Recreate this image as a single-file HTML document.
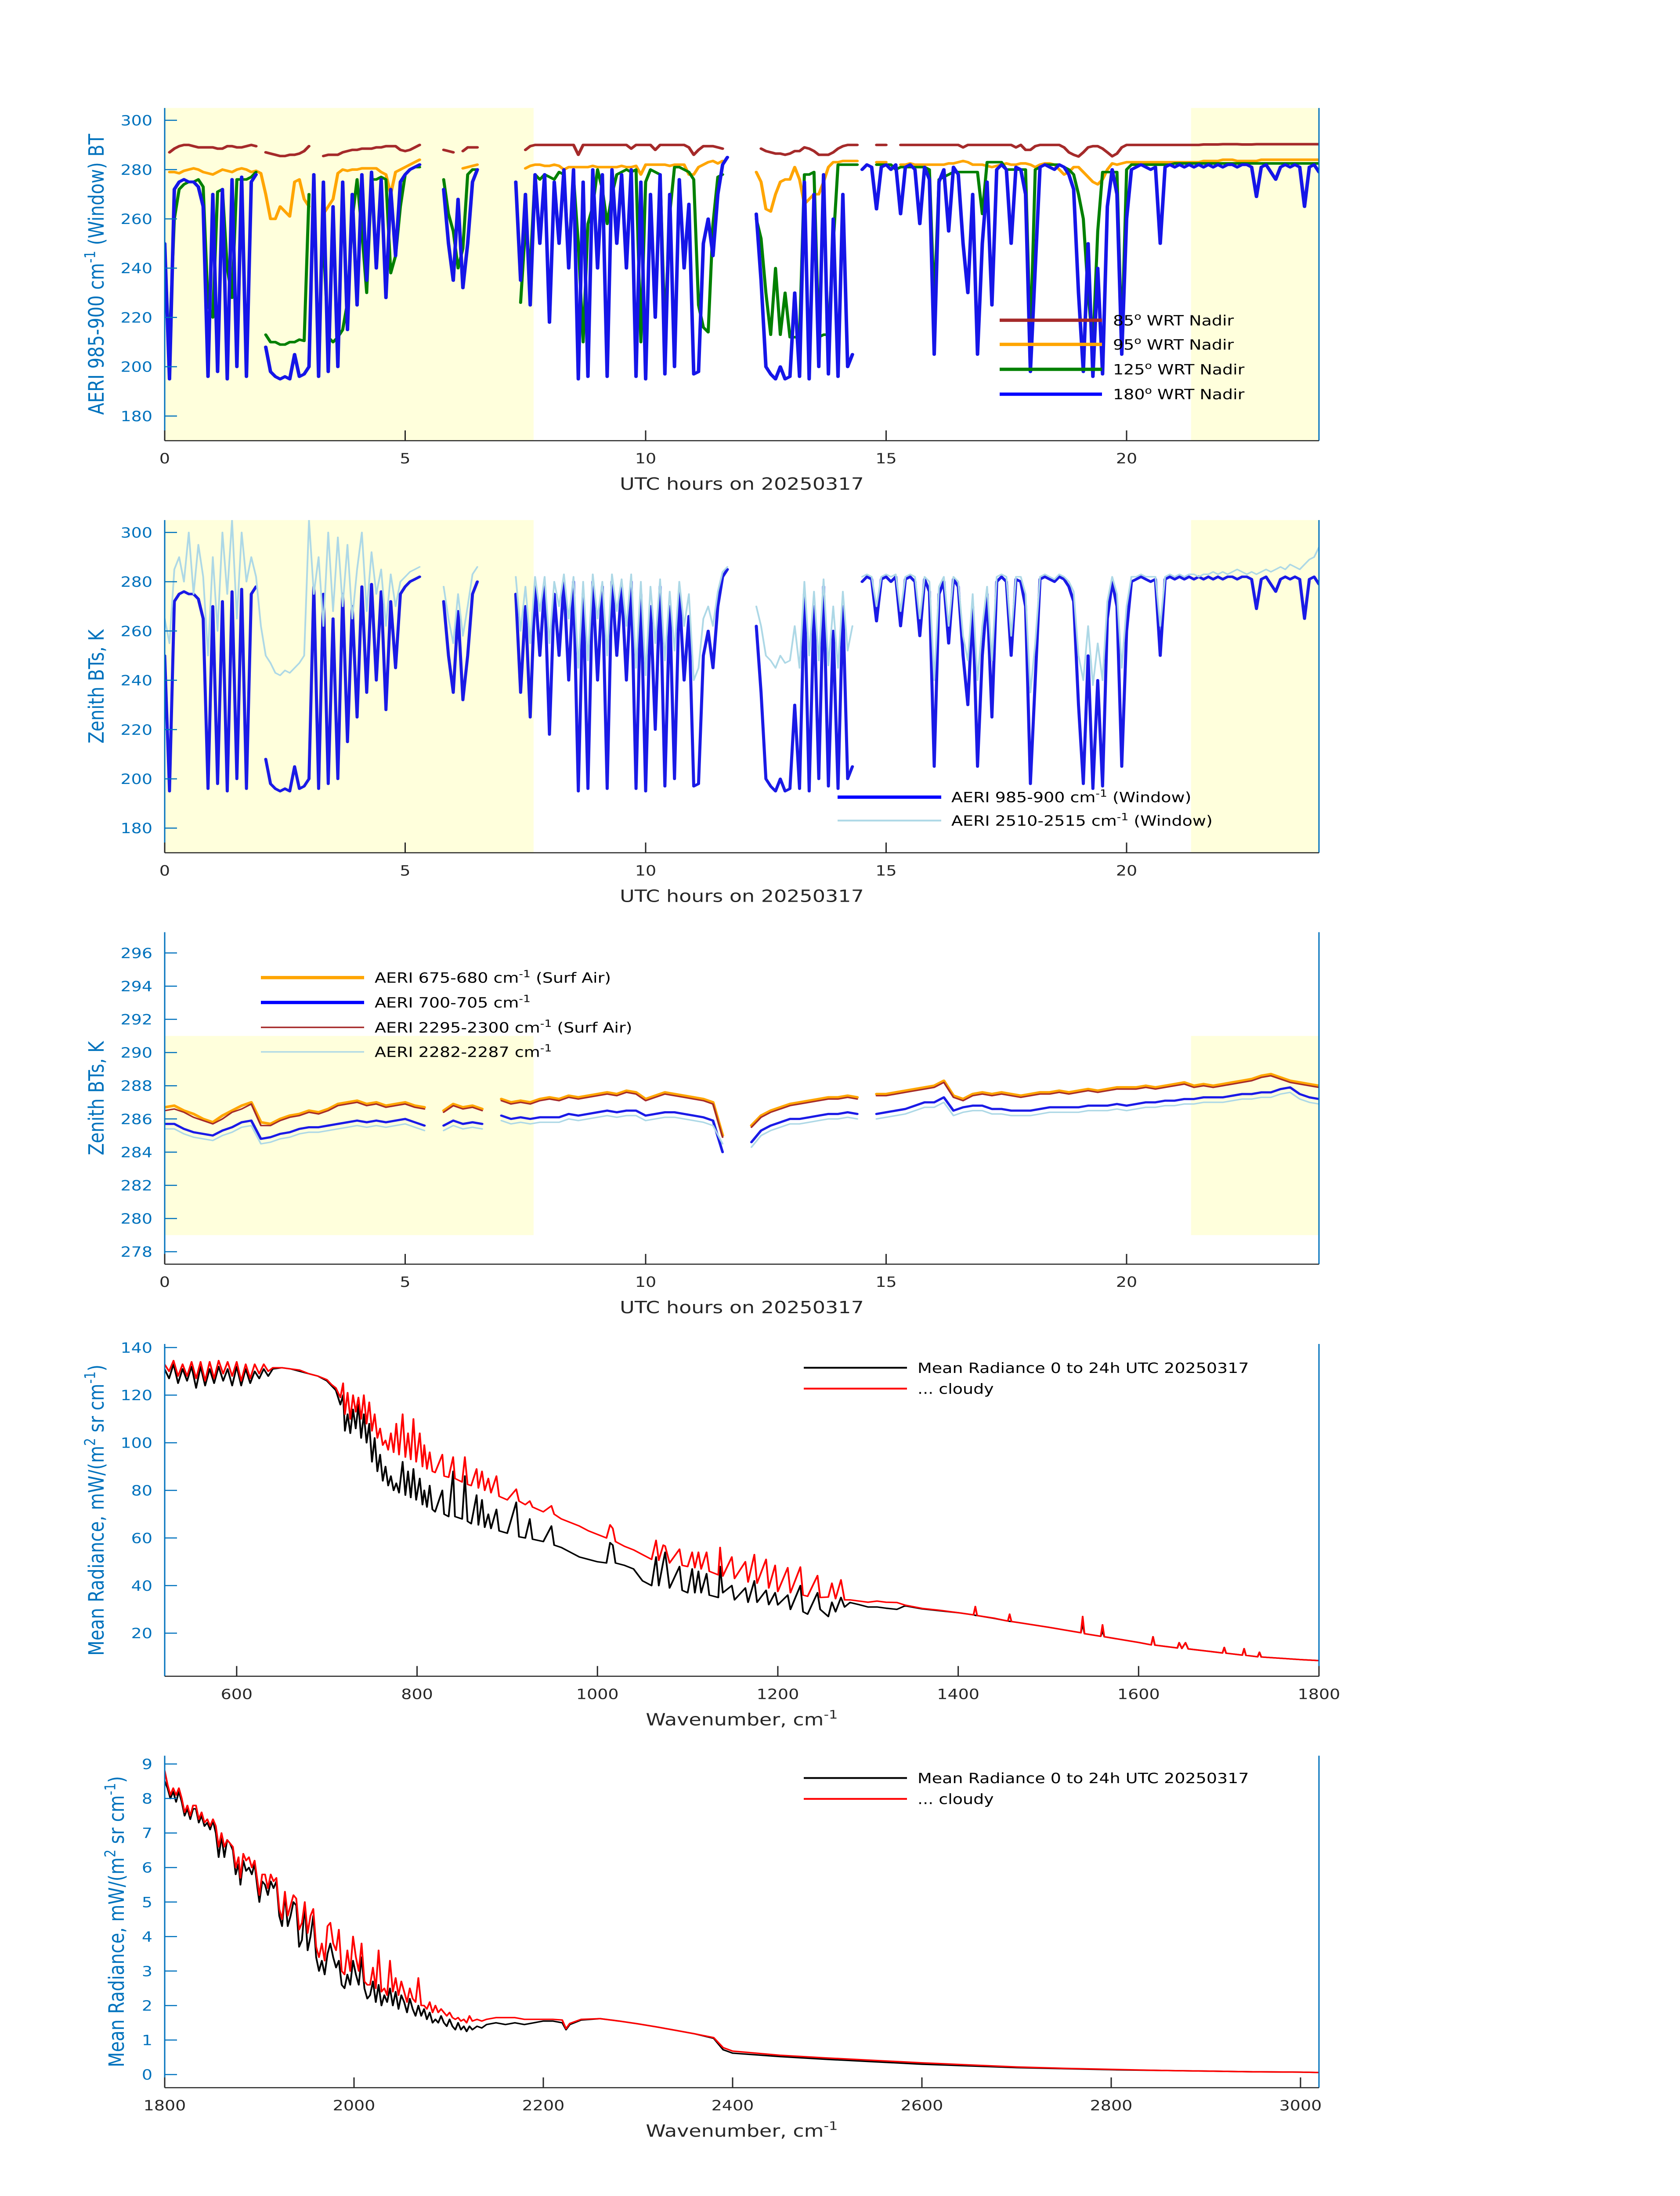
<!DOCTYPE html>
<html><head><meta charset="utf-8">
<style>
html,body{margin:0;padding:0;background:#fff;width:100%;height:100%;overflow:hidden;}
svg{display:block;position:absolute;left:0;top:0;width:100vw;height:100vh;font-family:"DejaVu Sans","Liberation Sans",sans-serif;}
</style></head>
<body>
<svg id="fig" xmlns="http://www.w3.org/2000/svg" viewBox="0 0 3825 6000" preserveAspectRatio="none">
<rect x="0" y="0" width="3825" height="6000" fill="#fff"/>
</svg>
<script>
// ---------- Panel 1/2 data (0.1 h steps, 0..24 h) ----------
const hourStep = 0.1;
const bt180 = [250,195,272,275,276,275,275,273,265,196,
270,198,272,195,276,200,277,196,275,278,
null,208,198,196,195,196,195,205,196,197,
200,278,196,275,198,265,200,275,215,270,
225,278,235,279,240,276,228,272,245,275,
278,280,281,282,null,null,null,null,272,250,
235,268,232,250,275,280,null,null,null,null,
null,null,null,275,235,270,225,278,250,278,
218,275,250,280,240,280,195,275,196,280,
240,278,196,280,250,278,240,280,196,275,
195,270,220,278,197,270,200,276,240,266,
197,198,250,260,245,270,282,285,null,null,
null,null,null,262,235,200,197,195,200,195,
196,230,196,275,195,270,200,278,197,260,
196,270,200,205,null,280,282,281,264,281,
282,280,282,262,281,282,280,258,281,276,
205,275,280,255,281,278,250,230,270,205,
250,275,225,280,282,280,250,281,280,270,
198,240,281,282,281,280,282,281,278,272,
230,198,250,196,240,197,265,280,270,205,
260,280,281,282,281,280,281,250,281,282,
281,282,281,282,281,282,281,282,281,282,
281,282,282,281,282,282,281,269,281,282,
279,276,281,282,281,282,281,265,281,282,
279];
const bt125 = [null,210,260,272,274,275,275,276,273,225,
220,271,272,240,228,276,276,276,277,279,
null,213,210,210,209,209,210,210,211,210.5,
270,null,null,250,212,210,212,215,226,260,
276,255,230,276,276,277,276,238,245,265,
278,280,281,281,null,null,null,null,276,262,
255,240,248,278,280,280,null,null,null,null,
null,null,null,null,226,257,240,278,276,278,
277,276,279,278,245,277,250,210,258,265,
280,272,258,270,278,279,280,279,280,210,
275,280,279,278,214,262,281,281,280,279,
276,225,216,214,258,277,278,null,null,null,
null,null,null,260,252,230,213,240,213,230,
212,212,212,278,278,279,212,213,213,250,
282,282,282,282,282,null,null,null,282,282,
282,282,280,281,281,281,281,281,281,280,
225,276,277,278,279,279,279,279,279,279,
262,283,283,283,283,280,280,280,280,280,
210,280,281,282,282,282,282,281,280,278,
270,260,230,208,255,279,279,279,279,210,
280,282,282,282,282,282,282,282,282,282,
282.5,282.5,282.5,282.5,282.5,282.5,282.5,282.5,282.5,282.5,
282.5,282.5,282.5,282.5,282.5,282.5,282.5,282.5,282.5,282.5,
282.5,282.5,282.5,282.5,282.5,282.5,282.5,282.5,282.5,282.5,
282.5];
const bt95 = [null,279,279,278.5,279.5,280,280.5,280,279,278.5,
278,279,280,279.5,279,280,280.5,280,279,279.5,
278.5,270,260,260,265,263,261,275,276,268,
265,null,null,262,265,268,278.5,280,279.5,280,
280,280.5,280.5,280.5,280.5,279,278,270,279,280,
281,282,283,284,null,null,null,null,null,null,
276,null,280.5,281,281.5,282,null,null,null,null,
null,null,null,276,null,280.5,281.5,282,282,281.5,
281.5,282,281.5,280,281,281,281,281,281,281.5,
281,281,281,281,281,281.5,281,281,281.5,278,
282,282,282,282,282,281.5,282,282,282,278,
278,281,282,283,283.5,282.5,283.5,null,null,null,
null,null,null,279,275,264,263,270,275,276,
276,281,276,266,268,270,270,275,281,283,
283,283.5,283.5,283.5,283.5,null,null,null,283,283,
283,null,null,282,282,282.5,282,282,282,282,
282,282,282,282.5,282.5,283,283.5,283,282,282,
282,281.5,281,281.5,282,282.5,282,282,282.5,282.5,
282,281,282,282.5,282.5,282,280,278,279,281,
281,279,277,275,274,276,280,282.5,282,282.5,
283,283,283,283,283,283,283,283,283,283,
283,283,283,283,283,283,283.5,283.5,283.5,283.5,
284,284,284,283.5,283.5,283.5,283.5,283.5,284,284,
284,284,284,284,284,284,284,284,284,284,
284];
const bt85 = [null,287,288.5,289.5,290,290,289.5,289,289,289,
289,288.5,288.5,289.5,289.5,289,289,289.5,290,289.5,
null,287,286.5,286,285.5,285.5,286,286,286.5,287.5,
289.5,null,null,285.5,286,286,286,287,287.5,288,
288,288.5,288.5,288.5,289,289,289.5,289.5,289.5,288,
287.5,288,289,290,null,null,null,null,288,287.5,
287,null,287.5,289,289,289,null,null,null,null,
null,null,null,287,null,288,289.5,290,290,290,
290,290,290,290,290,290,286,290,290,290,
290,290,290,290,290,290,290,288.5,290,290,
290,290,288,290,290,290,290,290,290,289,
286,288,289.5,289.5,289.5,289,288.5,null,null,null,
null,null,null,null,288.5,287.5,287,286.5,286.5,286,
286.5,287.5,287.5,289,288.5,287.5,286,286,286,287,
288.5,289.5,290,290,290,null,null,null,290,290,
290,null,null,290,290,290,290,290,290,290,
290,290,290,290,290,290,289,290,290,290,
290,290,290,290,290,290,290,289,290,288,
288,289.5,290,290,290,290,290,289,287,286,
285.3,287,289,289.5,289.5,288.5,287,285.4,286.5,289,
290,290,290,290,290,290,290,290,290,290,
290,290,290,290,290,290,290.2,290.2,290.2,290.2,
290.3,290.3,290.3,290.3,290.2,290.2,290.2,290.3,290.3,290.3,
290.3,290.3,290.3,290.3,290.3,290.3,290.3,290.3,290.3,290.3,
290.3];
const bt2510 = [265,255,285,290,280,300,275,295,282,250,
290,260,300,275,305,265,300,280,290,282,
262,250,247,243,242,244,243,245,247,250,
305,275,290,262,300,268,298,270,295,265,
285,300,268,292,275,285,262,283,270,280,
282,284,285,286,null,null,null,null,278,265,
255,275,258,270,283,286,null,null,null,null,
null,null,null,282,260,278,255,282,268,282,
255,280,270,283,265,282,245,280,248,283,
265,280,250,283,268,281,262,283,245,280,
242,278,255,281,248,276,252,280,262,275,
240,245,265,270,262,276,284,286,null,null,
null,null,null,270,262,250,248,245,250,247,
248,262,245,280,250,276,248,281,246,270,
245,276,252,262,null,282,283,282,270,282,
283,282,283,268,282,283,282,265,282,280,
240,278,282,262,282,280,258,248,275,240,
262,278,248,282,283,282,258,282,282,275,
235,255,282,283,282,281,283,282,280,276,
250,240,262,238,255,240,272,282,275,245,
270,282,282,283,282,282,282,262,282,283,
282,283,282,283,283,282,283,283,284,283,
284,283,284,285,284,283,284,283,284,285,
284,285,286,285,287,286,285,287,289,290,
294];

// ---------- Panel 3 data (0.2 h steps) ----------
const surfStep = 0.2;
const bt675 = [286.7,286.8,286.5,286.3,286.0,285.8,286.2,286.5,286.8,287.0,
285.8,285.7,286.0,286.2,286.3,286.5,286.4,286.6,286.9,287.0,
287.1,286.9,287.0,286.8,286.9,287.0,286.8,286.7,null,286.5,
286.9,286.7,286.8,286.6,null,287.2,287.0,287.1,287.0,287.2,
287.3,287.2,287.4,287.3,287.4,287.5,287.6,287.5,287.7,287.6,
287.2,287.4,287.6,287.5,287.4,287.3,287.2,287.0,285.0,null,
null,285.6,286.2,286.5,286.7,286.9,287.0,287.1,287.2,287.3,
287.3,287.4,287.3,null,287.5,287.5,287.6,287.7,287.8,287.9,
288.0,288.3,287.4,287.2,287.5,287.6,287.5,287.6,287.5,287.4,
287.5,287.6,287.6,287.7,287.6,287.7,287.8,287.7,287.8,287.9,
287.9,287.9,288.0,287.9,288.0,288.1,288.2,288.0,288.1,288.0,
288.1,288.2,288.3,288.4,288.6,288.7,288.5,288.3,288.2,288.1,
288.0];
const bt2295 = [286.5,286.6,286.4,286.1,285.9,285.7,286.0,286.4,286.6,286.9,
285.6,285.6,285.9,286.1,286.2,286.4,286.3,286.5,286.8,286.9,
287.0,286.8,286.9,286.7,286.8,286.9,286.7,286.6,null,286.4,
286.8,286.6,286.7,286.5,null,287.1,286.9,287.0,286.9,287.1,
287.2,287.1,287.3,287.2,287.3,287.4,287.5,287.4,287.6,287.5,
287.1,287.3,287.5,287.4,287.3,287.2,287.1,286.9,284.9,null,
null,285.5,286.1,286.4,286.6,286.8,286.9,287.0,287.1,287.2,
287.2,287.3,287.2,null,287.4,287.4,287.5,287.6,287.7,287.8,
287.9,288.2,287.3,287.1,287.4,287.5,287.4,287.5,287.4,287.3,
287.4,287.5,287.5,287.6,287.5,287.6,287.7,287.6,287.7,287.8,
287.8,287.8,287.9,287.8,287.9,288.0,288.1,287.9,288.0,287.9,
288.0,288.1,288.2,288.3,288.5,288.6,288.4,288.2,288.1,288.0,
287.9];
const bt700 = [285.7,285.7,285.4,285.2,285.1,285.0,285.3,285.5,285.8,285.9,
284.8,284.9,285.1,285.2,285.4,285.5,285.5,285.6,285.7,285.8,
285.9,285.8,285.9,285.8,285.9,286.0,285.8,285.6,null,285.6,
285.9,285.7,285.8,285.7,null,286.2,286.0,286.1,286.0,286.1,
286.1,286.1,286.3,286.2,286.3,286.4,286.5,286.4,286.5,286.5,
286.2,286.3,286.4,286.4,286.3,286.2,286.1,285.9,284.0,null,
null,284.6,285.3,285.6,285.8,286.0,286.0,286.1,286.2,286.3,
286.3,286.4,286.3,null,286.3,286.4,286.5,286.6,286.8,287.0,
287.0,287.3,286.5,286.7,286.8,286.8,286.6,286.6,286.5,286.5,
286.5,286.6,286.7,286.7,286.7,286.7,286.8,286.8,286.8,286.9,
286.8,286.9,287.0,287.0,287.1,287.1,287.2,287.2,287.3,287.3,
287.3,287.4,287.5,287.5,287.6,287.6,287.8,287.9,287.5,287.3,
287.2];
const bt2282 = [285.4,285.4,285.1,284.9,284.8,284.7,285.0,285.2,285.5,285.6,
284.5,284.6,284.8,284.9,285.1,285.2,285.2,285.3,285.4,285.5,
285.6,285.5,285.6,285.5,285.6,285.7,285.5,285.3,null,285.3,
285.6,285.4,285.5,285.4,null,285.9,285.7,285.8,285.7,285.8,
285.8,285.8,286.0,285.9,286.0,286.1,286.2,286.1,286.2,286.2,
285.9,286.0,286.1,286.1,286.0,285.9,285.8,285.6,284.5,null,
null,284.3,285.0,285.3,285.5,285.7,285.7,285.8,285.9,286.0,
286.0,286.1,286.0,null,286.0,286.1,286.2,286.3,286.5,286.7,
286.7,287.0,286.2,286.4,286.5,286.5,286.3,286.3,286.2,286.2,
286.2,286.3,286.4,286.4,286.4,286.4,286.5,286.5,286.5,286.6,
286.5,286.6,286.7,286.7,286.8,286.8,286.9,286.9,287.0,287.0,
287.0,287.1,287.2,287.2,287.3,287.3,287.5,287.6,287.2,287.0,
286.9];

// ---------- Panel 4 spectra ----------
const wn4 = [520,525,530,535,540,545,550,555,560,565,570,575,580,585,590,595,600,605,610,615,620,625,630,635,640,650,660,670,680,690,700,705,710,715,718,720,723,726,729,732,735,738,741,744,747,750,753,756,759,762,765,768,771,774,777,780,784,787,790,793,796,799,803,806,808,811,814,817,820,828,830,835,840,842,850,853,856,860,866,868,872,875,879,882,888,891,900,910,913,920,925,928,940,949,952,960,970,980,990,1000,1010,1014,1017,1020,1030,1040,1050,1060,1065,1068,1073,1075,1080,1091,1094,1100,1105,1108,1112,1115,1121,1124,1134,1136,1139,1149,1152,1164,1167,1174,1177,1187,1190,1197,1200,1211,1214,1225,1228,1233,1244,1247,1256,1260,1264,1270,1274,1280,1290,1300,1310,1320,1332,1341,1360,1380,1400,1417,1419,1421,1440,1455,1457,1459,1468,1500,1536,1538,1540,1558,1560,1562,1600,1614,1616,1618,1643,1645,1648,1652,1655,1680,1693,1695,1697,1715,1717,1719,1732,1734,1736,1760,1780,1800];
const rad4All = [131,127,133,125,131,126,132,123,132,124,131,125,132,126,131,124,132,124,131,125,130,127,131,128,131,131.5,131,130,129,128,126,124,122,116,120,105,112,104,114,106,116,102,112,100,108,92,102,88,95,84,90,82,86,80,83,79,92,78,88,77,89,76,85,74,80,73,82,72,71,80,70,69,88,69,68,86,67,66,78,65.5,76,64.5,70,64,72,63,62,75,60.5,60,68,59.5,58.5,65,57,56,54,52,51,50,49.5,58,57,49.5,48.5,47,42,40,52,40,50,54,39,48,38,37,47,37,46,37,45,36,35,48,37,40,34,39,33,42,33,38,32,37,31.9,36,30,40,29,28,37,30,27,33,29,35,31,32.9,32,31,31,30.5,30,31.5,30.2,29.4,28.6,27.7,27.5,27.4,26.2,25.1,25,24.9,24.4,22.5,20.2,24,19.8,18.7,21,18.5,16.1,15.1,18.5,15,13.8,16,13.6,16,13.4,12.3,11.7,14,11.6,10.8,13.5,10.7,10.1,12,10,9.4,8.9,8.5];
const rad4Cloudy = [133,130,134.5,128,133,128,134,127,134,126,134,127,134.5,129,134,128,134,126,133,127,133,129,133,130,131.5,131.5,131,130.5,129,128,126.5,124.5,123,119,125,112,121,110,120,113,119,110,120,108,117,105,112,102,106,99,101,97,104,96,108,95,112,94,104,93,110,92,104,90,99,89,96,88,87.5,95,86,85.5,94,85,83.5,94,82.5,82,89,81,88,80,85,79,86,77.5,76,80.5,75.5,74,75.5,73,71,73.5,70,68,66.5,65,63,61.5,60,65.5,64,58.5,56.5,55,53,51,59,50.6,57,56.6,49.5,55.3,48.5,48,54,47.5,54,47,54,46,44.5,56,44,52,43,50,41.5,53,41,51,39,48.5,37.5,47.5,37,47.8,36,35.5,44.2,35,35.2,41,34.5,42.4,34,34,33.5,33,33.5,33,32.9,31.8,30.4,29.6,28.6,27.7,31.2,27.4,26.3,25.1,28,24.9,24.4,22.5,20.2,27,19.8,18.7,23.5,18.5,16.1,15.1,18.5,15,13.8,16,13.6,16,13.4,12.3,11.7,14,11.6,10.8,13.5,10.7,10.1,12,10,9.4,8.9,8.5];

// ---------- Panel 5 spectra ----------
const wn5 = [1800,1803,1806,1809,1812,1815,1818,1821,1824,1827,1830,1833,1836,1839,1842,1845,1848,1851,1854,1857,1860,1863,1866,1869,1872,1875,1878,1880,1883,1886,1889,1892,1895,1898,1900,1903,1906,1909,1912,1915,1918,1921,1924,1927,1930,1933,1936,1939,1942,1945,1948,1951,1954,1957,1960,1963,1966,1969,1972,1975,1978,1981,1984,1987,1990,1993,1996,1999,2002,2005,2008,2011,2014,2017,2020,2023,2026,2029,2032,2035,2038,2041,2044,2047,2050,2053,2056,2059,2062,2065,2068,2071,2074,2077,2080,2083,2086,2089,2092,2095,2098,2101,2104,2107,2110,2113,2116,2119,2122,2125,2130,2135,2140,2150,2160,2170,2180,2190,2200,2210,2220,2224,2228,2240,2260,2280,2300,2320,2340,2360,2380,2390,2400,2450,2500,2550,2600,2650,2700,2750,2800,2850,2900,2950,3000,3020];
const rad5All = [8.5,8.3,8.0,8.2,7.9,8.2,7.9,7.5,7.7,7.4,7.7,7.7,7.3,7.5,7.2,7.3,7.1,7.35,7.0,6.3,6.9,6.3,6.8,6.7,6.5,5.8,6.1,5.5,6.2,5.9,6.0,5.8,6.1,5.4,5.0,5.6,5.5,5.2,5.6,5.4,5.6,4.6,4.3,5.2,4.3,4.6,5.0,4.9,3.7,3.9,4.9,3.6,4.0,4.6,3.4,3.0,3.3,2.9,3.5,3.8,3.4,3.1,3.3,2.6,2.5,2.9,2.6,3.3,2.9,2.6,3.4,2.5,2.2,2.3,2.7,2.1,2.6,2.0,2.3,2.1,2.5,2.0,2.4,1.9,2.3,2.1,1.8,2.2,1.9,1.7,2.0,1.7,1.9,1.6,1.8,1.5,1.6,1.5,1.7,1.5,1.4,1.6,1.4,1.3,1.5,1.3,1.4,1.25,1.4,1.3,1.4,1.35,1.45,1.5,1.45,1.5,1.45,1.5,1.55,1.55,1.5,1.3,1.45,1.58,1.62,1.55,1.47,1.38,1.28,1.18,1.05,0.72,0.62,0.52,0.44,0.37,0.30,0.25,0.20,0.17,0.14,0.12,0.10,0.08,0.07,0.06];
const rad5Cloudy = [8.8,8.4,8.1,8.3,8.1,8.3,8.0,7.6,7.8,7.5,7.8,7.8,7.4,7.6,7.3,7.4,7.2,7.4,7.2,6.6,7.0,6.6,6.8,6.7,6.6,6.0,6.3,5.7,6.4,6.2,6.3,6.0,6.2,5.6,5.2,5.8,5.8,5.4,5.8,5.6,5.7,4.8,4.5,5.3,4.6,4.9,5.2,5.1,4.2,4.4,5.0,4.1,4.6,4.8,3.7,3.4,3.8,3.3,4.3,4.4,3.8,3.6,4.2,3.0,2.9,3.6,3.0,4.0,3.4,3.0,3.8,2.7,2.6,2.6,3.1,2.5,3.6,2.4,2.5,2.3,3.3,2.4,2.8,2.3,2.7,2.4,2.1,2.5,2.2,2.1,2.8,2.0,2.0,1.9,2.1,1.8,2.0,1.8,1.9,1.8,1.7,1.8,1.65,1.6,1.65,1.55,1.6,1.5,1.7,1.55,1.6,1.55,1.6,1.65,1.65,1.65,1.6,1.6,1.6,1.6,1.58,1.33,1.48,1.6,1.62,1.55,1.47,1.38,1.28,1.18,1.07,0.78,0.68,0.56,0.48,0.41,0.34,0.28,0.22,0.18,0.15,0.12,0.10,0.08,0.07,0.06];

// ---------- axis tick arrays ----------
const hourTicks = [0,5,10,15,20];
const btTicks = [180,200,220,240,260,280,300];
const surfTicks = [278,280,282,284,286,288,290,292,294,296];
const wn4Ticks = [600,800,1000,1200,1400,1600,1800];
const rad4Ticks = [20,40,60,80,100,120,140];
const wn5Ticks = [1800,2000,2200,2400,2600,2800,3000];
const rad5Ticks = [0,1,2,3,4,5,6,7,8,9];
const nightSpans = [[0,7.67],[21.34,24]];

// ---------- drawing ----------
const NS = "http://www.w3.org/2000/svg";
const svg = document.getElementById('fig');
const AX_L = 375, AX_R = 3003;
const BLUE_AX = '#0072BD', DARK = '#262626';

function mk(tag, attrs, parent) {
  const e = document.createElementNS(NS, tag);
  for (const k in attrs) e.setAttribute(k, attrs[k]);
  (parent || svg).appendChild(e);
  return e;
}
function makePanel(id, top, bottom, xmin, xmax, ymin, ymax) {
  const g = mk('g', {});
  
  
  const cp = mk('clipPath', {id: 'clip' + id}, g);
  mk('rect', {x: AX_L, y: top, width: AX_R - AX_L, height: bottom - top}, cp);
  return {g, top, bottom,
    x: v => AX_L + (v - xmin) / (xmax - xmin) * (AX_R - AX_L),
    y: v => bottom - (v - ymin) / (ymax - ymin) * (bottom - top),
    clip: 'url(#clip' + id + ')'};
}
function pathFrom(xs, ys, P) {
  let d = '', pen = false;
  for (let i = 0; i < ys.length; i++) {
    if (ys[i] === null || ys[i] === undefined) { pen = false; continue; }
    const px = P.x(xs[i]).toFixed(1), py = P.y(ys[i]).toFixed(1);
    d += (pen ? 'L' : 'M') + px + ' ' + py;
    pen = true;
  }
  return d;
}
function series(P, xs, ys, color, w, name) {
  const p = mk('path', {d: pathFrom(xs, ys, P), fill: 'none', stroke: color, 'stroke-width': w,
    'stroke-linejoin': 'round', 'stroke-linecap': 'round', 'clip-path': P.clip}, P.g);
  
  
  return p;
}
function shade(P, x0, x1, y0, y1, name) {
  const r = mk('rect', {x: P.x(x0), y: y1 === null ? P.top : P.y(y1), width: P.x(x1) - P.x(x0),
    height: (y0 === null ? P.bottom : P.y(y0)) - (y1 === null ? P.top : P.y(y1)), fill: '#ffffdc'}, P.g);
  
  
}
function axes(P, xt, yt) {
  const ax = mk('g', {}, P.g);
  
  
  const l = mk('line', {x1: AX_L, y1: P.top, x2: AX_L, y2: P.bottom, stroke: BLUE_AX, 'stroke-width': 3}, ax);
  
  
  const r = mk('line', {x1: AX_R, y1: P.top, x2: AX_R, y2: P.bottom, stroke: BLUE_AX, 'stroke-width': 3}, ax);
  
  
  const b = mk('line', {x1: AX_L, y1: P.bottom, x2: AX_R, y2: P.bottom, stroke: DARK, 'stroke-width': 3}, ax);
  
  
  xt.forEach(v => {
    const X = P.x(v);
    const t = mk('line', {x1: X, y1: P.bottom, x2: X, y2: P.bottom - 28, stroke: DARK, 'stroke-width': 3}, ax);
    
    
    const tx = mk('text', {x: X, y: P.bottom + 62, 'font-size': 38, fill: DARK, 'text-anchor': 'middle'}, ax);
    tx.textContent = String(v);
    
    
  });
  yt.forEach(v => {
    const Y = P.y(v);
    const t = mk('line', {x1: AX_L, y1: Y, x2: AX_L + 28, y2: Y, stroke: BLUE_AX, 'stroke-width': 3}, ax);
    
    
    const tx = mk('text', {x: 347, y: Y + 14, 'font-size': 38, fill: BLUE_AX, 'text-anchor': 'end'}, ax);
    tx.textContent = String(v);
    
    
  });
}
function richText(parent, x, y, size, color, parts, anchor, rot) {
  const t = mk('text', {x: x, y: y, 'font-size': size, fill: color, 'text-anchor': anchor || 'start'}, parent);
  if (rot) t.setAttribute('transform', 'rotate(-90 ' + x + ' ' + y + ')');
  parts.forEach(p => {
    const s = mk('tspan', {}, t);
    if (p.sup) { s.setAttribute('baseline-shift', 'super'); s.setAttribute('font-size', size * 0.7); }
    s.textContent = p.t;
  });
  return t;
}
function legend(P, x1, x2, tx, rows) {
  const lg = mk('g', {}, P.g);
  
  
  rows.forEach(rw => {
    const e = mk('g', {}, lg);
    
    
    mk('line', {x1: x1, y1: rw.y, x2: x2, y2: rw.y, stroke: rw.c, 'stroke-width': rw.w}, e);
    richText(e, tx, rw.y + 14, 38, '#000', rw.parts);
  });
}
function xTitle(P, parts) {
  const t = richText(P.g, (AX_L + AX_R) / 2, P.bottom + 134, 46, DARK, parts, 'middle');
  
  
}
function yTitle(P, cx, parts) {
  const t = richText(P.g, cx, (P.top + P.bottom) / 2, 48, BLUE_AX, parts, 'middle', true);
  
  
}
const hoursOf = (arr, step) => arr.map((_, i) => +(i * step).toFixed(3));

// ----- Panel 1 -----
const P1 = makePanel(1, 295, 1204, 0, 24, 170, 305);
nightSpans.forEach(s => shade(P1, s[0], s[1], null, null, 'night-shading'));
const h1 = hoursOf(bt180, hourStep);
series(P1, h1, bt85, '#A52A2A', 7, 'series-85deg');
series(P1, h1, bt95, '#FFA500', 7, 'series-95deg');
series(P1, h1, bt125, '#008000', 7, 'series-125deg');
series(P1, h1, bt180, '#1515e8', 8, 'series-180deg');
axes(P1, hourTicks, btTicks);
xTitle(P1, [{t: 'UTC hours on 20250317'}]);
yTitle(P1, 236, [{t: 'AERI 985-900 cm'}, {t: '-1', sup: true}, {t: ' (Window) BT'}]);
legend(P1, 2276, 2509, 2534, [
  {y: 875, c: '#A52A2A', w: 9, parts: [{t: '85'}, {t: 'o', sup: true}, {t: ' WRT Nadir'}]},
  {y: 941, c: '#FFA500', w: 9, parts: [{t: '95'}, {t: 'o', sup: true}, {t: ' WRT Nadir'}]},
  {y: 1009, c: '#008000', w: 9, parts: [{t: '125'}, {t: 'o', sup: true}, {t: ' WRT Nadir'}]},
  {y: 1077, c: '#0000ff', w: 9, parts: [{t: '180'}, {t: 'o', sup: true}, {t: ' WRT Nadir'}]}]);

// ----- Panel 2 -----
const P2 = makePanel(2, 1421, 2330, 0, 24, 170, 305);
nightSpans.forEach(s => shade(P2, s[0], s[1], null, null, 'night-shading'));
series(P2, h1, bt180, '#1a1ae6', 7, 'series-window-985');
series(P2, h1, bt2510, '#add8e6', 4, 'series-window-2510');
axes(P2, hourTicks, btTicks);
xTitle(P2, [{t: 'UTC hours on 20250317'}]);
yTitle(P2, 236, [{t: 'Zenith BTs, K'}]);
legend(P2, 1907, 2143, 2166, [
  {y: 2178, c: '#0000ff', w: 9, parts: [{t: 'AERI 985-900 cm'}, {t: '-1', sup: true}, {t: ' (Window)'}]},
  {y: 2242, c: '#add8e6', w: 5, parts: [{t: 'AERI 2510-2515 cm'}, {t: '-1', sup: true}, {t: ' (Window)'}]}]);

// ----- Panel 3 -----
const P3 = makePanel(3, 2547, 3454, 0, 24, 277.25, 297.25);
nightSpans.forEach(s => shade(P3, s[0], s[1], 279, 291, 'night-shading'));
const h3 = hoursOf(bt675, surfStep);
series(P3, h3, bt675, '#FFA500', 7, 'series-675');
series(P3, h3, bt700, '#1a1ae6', 6, 'series-700');
series(P3, h3, bt2295, '#A52A2A', 4, 'series-2295');
series(P3, h3, bt2282, '#add8e6', 4, 'series-2282');
axes(P3, hourTicks, surfTicks);
xTitle(P3, [{t: 'UTC hours on 20250317'}]);
yTitle(P3, 236, [{t: 'Zenith BTs, K'}]);
legend(P3, 594, 829, 853, [
  {y: 2671, c: '#FFA500', w: 9, parts: [{t: 'AERI 675-680 cm'}, {t: '-1', sup: true}, {t: ' (Surf Air)'}]},
  {y: 2739, c: '#0000ff', w: 9, parts: [{t: 'AERI 700-705 cm'}, {t: '-1', sup: true}]},
  {y: 2807, c: '#A52A2A', w: 4, parts: [{t: 'AERI 2295-2300 cm'}, {t: '-1', sup: true}, {t: ' (Surf Air)'}]},
  {y: 2874, c: '#add8e6', w: 4, parts: [{t: 'AERI 2282-2287 cm'}, {t: '-1', sup: true}]}]);

// ----- Panel 4 -----
const P4 = makePanel(4, 3672, 4580, 520.2, 1800, 1.9, 141.5);
series(P4, wn4, rad4All, '#000', 4, 'series-mean-radiance');
series(P4, wn4, rad4Cloudy, '#ff0000', 4, 'series-cloudy');
axes(P4, wn4Ticks, rad4Ticks);
xTitle(P4, [{t: 'Wavenumber, cm'}, {t: '-1', sup: true}]);
yTitle(P4, 236, [{t: 'Mean Radiance, mW/(m'}, {t: '2', sup: true}, {t: ' sr cm'}, {t: '-1', sup: true}, {t: ')'}]);
legend(P4, 1830, 2065, 2089, [
  {y: 3737, c: '#000', w: 5, parts: [{t: 'Mean Radiance 0 to 24h UTC 20250317'}]},
  {y: 3794, c: '#ff0000', w: 5, parts: [{t: '... cloudy'}]}]);

// ----- Panel 5 -----
const P5 = makePanel(5, 4797, 5704, 1800, 3019.5, -0.38, 9.24);
series(P5, wn5, rad5All, '#000', 4, 'series-mean-radiance');
series(P5, wn5, rad5Cloudy, '#ff0000', 4, 'series-cloudy');
axes(P5, wn5Ticks, rad5Ticks);
xTitle(P5, [{t: 'Wavenumber, cm'}, {t: '-1', sup: true}]);
yTitle(P5, 282, [{t: 'Mean Radiance, mW/(m'}, {t: '2', sup: true}, {t: ' sr cm'}, {t: '-1', sup: true}, {t: ')'}]);
legend(P5, 1830, 2065, 2089, [
  {y: 4858, c: '#000', w: 5, parts: [{t: 'Mean Radiance 0 to 24h UTC 20250317'}]},
  {y: 4915, c: '#ff0000', w: 5, parts: [{t: '... cloudy'}]}]);
</script>
</body></html>
